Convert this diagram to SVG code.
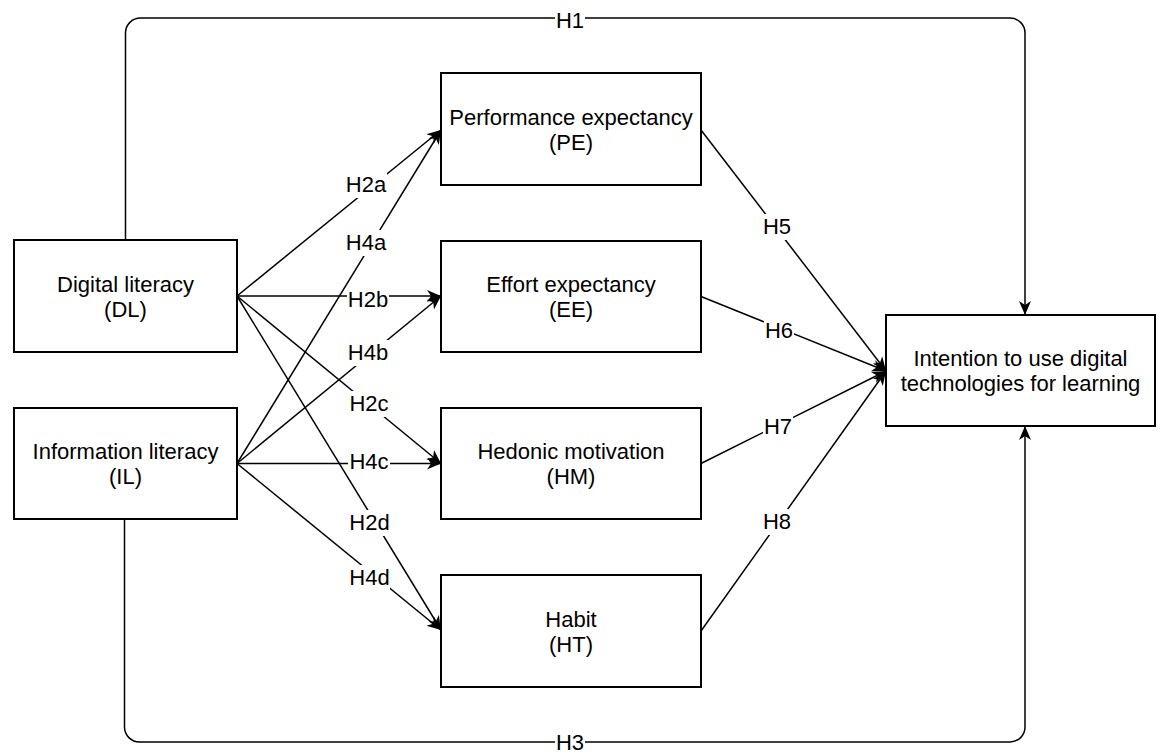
<svg xmlns="http://www.w3.org/2000/svg" width="1167" height="753" viewBox="0 0 1167 753">
  <style>
    .box { fill: #ffffff; stroke: #000000; stroke-width: 2; }
    .edge { fill: none; stroke: #000000; stroke-width: 1.5; marker-end: url(#arrow); }
    .txt { font-family: "Liberation Sans", Arial, Helvetica, sans-serif; font-size: 22px; fill: #000000; text-anchor: middle; }
    .lblbg { fill: #ffffff; stroke: none; }
  </style>
  <defs>
    <marker id="arrow" markerUnits="userSpaceOnUse" markerWidth="16" markerHeight="14" refX="14" refY="6" orient="auto">
      <path d="M0,0 L14,6 L0,12 L4,6 Z" fill="#000000"/>
    </marker>
  </defs>

  <rect x="0" y="0" width="1167" height="753" fill="#ffffff"/>

  <!-- connectors -->
  <g id="connectors">
    <path class="edge" d="M125.5,240 V33 A15,15 0 0 1 140.5,18 H1010 A15,15 0 0 1 1025,33 V315"/>
    <path class="edge" d="M124.5,519 V727 A15,15 0 0 0 139.5,742 H1010 A15,15 0 0 0 1025,727 V426"/>

    <line class="edge" x1="237" y1="296" x2="441" y2="130"/>
    <line class="edge" x1="237" y1="463.5" x2="441" y2="130"/>
    <line class="edge" x1="237" y1="296" x2="441" y2="296"/>
    <line class="edge" x1="237" y1="463.5" x2="441" y2="296"/>
    <line class="edge" x1="237" y1="296" x2="441" y2="463.5"/>
    <line class="edge" x1="237" y1="463.5" x2="441" y2="463.5"/>
    <line class="edge" x1="237" y1="296" x2="441" y2="630"/>
    <line class="edge" x1="237" y1="463.5" x2="441" y2="630"/>

    <line class="edge" x1="701" y1="130" x2="886" y2="371"/>
    <line class="edge" x1="701" y1="296.5" x2="886" y2="371"/>
    <line class="edge" x1="701" y1="463.5" x2="886" y2="371"/>
    <line class="edge" x1="701" y1="631" x2="886" y2="371"/>

    <!-- edge labels -->
    <g id="edge-labels">
      <rect class="lblbg" x="555" y="8" width="30" height="26"/>
      <text class="txt" x="570" y="28">H1</text>
      <rect class="lblbg" x="555" y="731" width="30" height="22"/>
      <text class="txt" x="570" y="750">H3</text>

      <rect class="lblbg" x="345" y="172" width="42" height="26"/>
      <text class="txt" x="366" y="192">H2a</text>
      <rect class="lblbg" x="345" y="230" width="42" height="26"/>
      <text class="txt" x="366" y="250">H4a</text>
      <rect class="lblbg" x="347" y="287" width="42" height="26"/>
      <text class="txt" x="368" y="307">H2b</text>
      <rect class="lblbg" x="347" y="340" width="42" height="26"/>
      <text class="txt" x="368" y="360">H4b</text>
      <rect class="lblbg" x="348" y="391" width="42" height="26"/>
      <text class="txt" x="369" y="411">H2c</text>
      <rect class="lblbg" x="348" y="449" width="42" height="26"/>
      <text class="txt" x="369" y="469">H4c</text>
      <rect class="lblbg" x="348" y="510" width="42" height="26"/>
      <text class="txt" x="369.5" y="530">H2d</text>
      <rect class="lblbg" x="348" y="565" width="42" height="26"/>
      <text class="txt" x="369.5" y="585">H4d</text>

      <rect class="lblbg" x="762" y="214" width="30" height="26"/>
      <text class="txt" x="777" y="234">H5</text>
      <rect class="lblbg" x="764" y="318" width="30" height="26"/>
      <text class="txt" x="779" y="338">H6</text>
      <rect class="lblbg" x="763" y="414" width="30" height="26"/>
      <text class="txt" x="778" y="434">H7</text>
      <rect class="lblbg" x="762" y="509" width="30" height="26"/>
      <text class="txt" x="777" y="529">H8</text>
    </g>
  </g>

  <!-- nodes -->
  <g id="node-dl">
    <rect class="box" x="14" y="240" width="223" height="112"/>
    <text class="txt" x="125.5" y="292">Digital literacy</text>
    <text class="txt" x="125.5" y="317">(DL)</text>
  </g>
  <g id="node-il">
    <rect class="box" x="14" y="408" width="223" height="111"/>
    <text class="txt" x="125.5" y="459">Information literacy</text>
    <text class="txt" x="125.5" y="484">(IL)</text>
  </g>
  <g id="node-pe">
    <rect class="box" x="441" y="73" width="260" height="112"/>
    <text class="txt" x="571" y="125">Performance expectancy</text>
    <text class="txt" x="571" y="150">(PE)</text>
  </g>
  <g id="node-ee">
    <rect class="box" x="441" y="241" width="260" height="111"/>
    <text class="txt" x="571" y="292">Effort expectancy</text>
    <text class="txt" x="571" y="317">(EE)</text>
  </g>
  <g id="node-hm">
    <rect class="box" x="441" y="408" width="260" height="111"/>
    <text class="txt" x="571" y="459">Hedonic motivation</text>
    <text class="txt" x="571" y="484">(HM)</text>
  </g>
  <g id="node-ht">
    <rect class="box" x="441" y="575" width="260" height="112"/>
    <text class="txt" x="571" y="626.5">Habit</text>
    <text class="txt" x="571" y="651.5">(HT)</text>
  </g>
  <g id="node-intention">
    <rect class="box" x="886" y="315" width="269" height="111"/>
    <text class="txt" x="1020.5" y="366">Intention to use digital</text>
    <text class="txt" x="1020.5" y="391">technologies for learning</text>
  </g>
</svg>
